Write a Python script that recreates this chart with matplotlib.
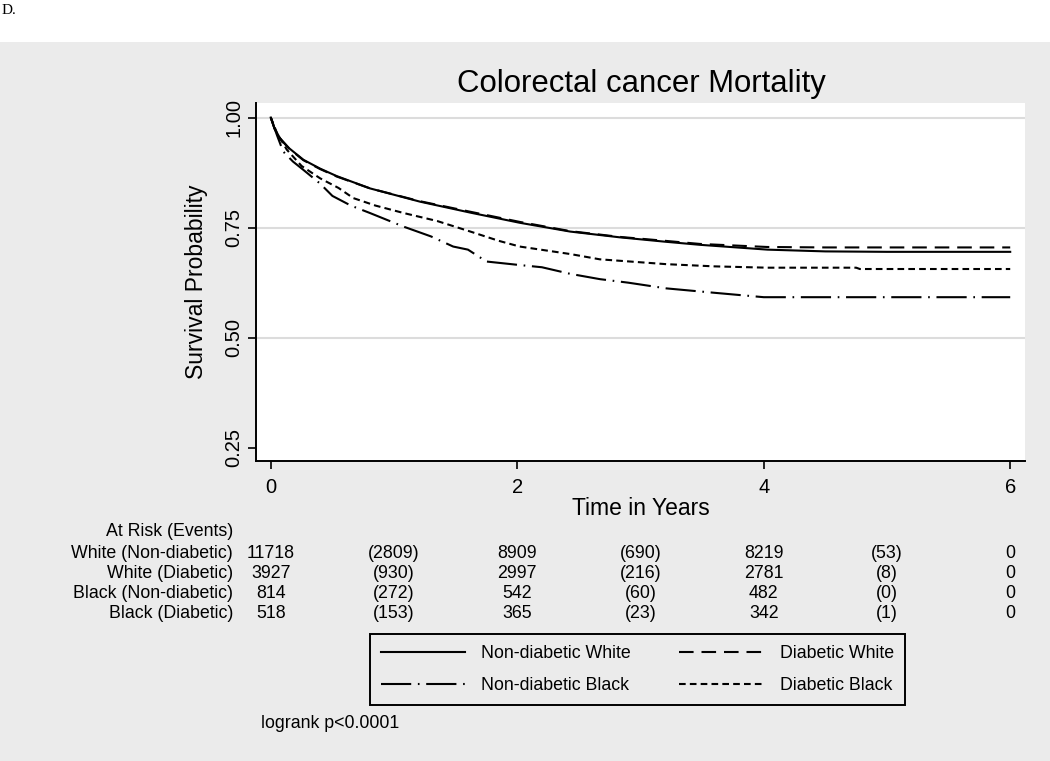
import matplotlib
matplotlib.use("Agg")
import matplotlib.pyplot as plt
from matplotlib.patches import Rectangle
from matplotlib.transforms import blended_transform_factory

# ---------------- data ----------------
t_nd_white = [0.0, 0.03, 0.075, 0.15, 0.265, 0.4, 0.535, 0.806, 1.21, 1.62, 2.02, 2.43, 2.83, 3.2, 3.48, 4.03, 4.5, 5.0, 6.0]
s_nd_white = [1.0, 0.975, 0.953, 0.93, 0.904, 0.884, 0.867, 0.839, 0.809, 0.784, 0.761, 0.741, 0.728, 0.718, 0.711, 0.700, 0.696, 0.695, 0.695]

t_d_white = [0.0, 0.03, 0.075, 0.15, 0.265, 0.4, 0.535, 0.806, 1.21, 1.62, 2.02, 2.43, 2.83, 3.2, 3.48, 4.03, 4.5, 5.0, 6.0]
s_d_white = [1.0, 0.975, 0.952, 0.929, 0.903, 0.883, 0.866, 0.839, 0.810, 0.786, 0.763, 0.742, 0.729, 0.720, 0.713, 0.706, 0.705, 0.705, 0.705]

t_nd_black = [0.0, 0.05, 0.10, 0.18, 0.265, 0.4, 0.5, 0.65, 0.806, 1.08, 1.3, 1.48, 1.6, 1.75, 2.02, 2.2, 2.43, 2.67, 2.9, 3.21, 3.6, 4.0, 6.0]
s_nd_black = [1.0, 0.96, 0.923, 0.900, 0.881, 0.850, 0.822, 0.800, 0.783, 0.752, 0.730, 0.707, 0.700, 0.673, 0.665, 0.660, 0.645, 0.633, 0.625, 0.612, 0.602, 0.592, 0.592]

t_d_black = [0.0, 0.05, 0.13, 0.25, 0.4, 0.55, 0.67, 0.85, 1.08, 1.35, 1.62, 1.85, 2.02, 2.43, 2.67, 3.21, 3.6, 4.03, 4.75, 4.78, 6.0]
s_d_black = [1.0, 0.965, 0.927, 0.890, 0.862, 0.840, 0.817, 0.800, 0.783, 0.765, 0.741, 0.720, 0.707, 0.690, 0.678, 0.667, 0.662, 0.659, 0.659, 0.656, 0.656]

series_labels = ["Non-diabetic White", "Diabetic White", "Non-diabetic Black", "Diabetic Black"]

row_labels = ["White (Non-diabetic)", "White (Diabetic)", "Black (Non-diabetic)", "Black (Diabetic)"]
at_risk_times = [0, 2, 4, 6]
event_times = [1, 3, 5]
at_risk = [[11718, 8909, 8219, 0],
           [3927, 2997, 2781, 0],
           [814, 542, 482, 0],
           [518, 365, 342, 0]]
events = [[2809, 690, 53],
          [930, 216, 8],
          [272, 60, 0],
          [153, 23, 1]]

x_ticks = [0, 2, 4, 6]
y_ticks = [0.25, 0.50, 0.75, 1.00]

# ---------------- figure ----------------
W, H = 1050, 761
BG = "#ebebeb"
plt.rcParams["font.family"] = ["Liberation Sans", "DejaVu Sans"]
fig = plt.figure(figsize=(W / 100, H / 100), dpi=100, facecolor=BG)
fig.patches.append(Rectangle((0, 1 - 42 / H), 1, 42 / H, transform=fig.transFigure,
                             facecolor="white", edgecolor="none", zorder=0))
fig.text(2 / W, 1 - 11 / H, "D.", family=["Liberation Serif", "DejaVu Serif"], fontsize=11,
         va="center", ha="left")

def fx(px):
    return px / W

def fy(py):
    return 1 - py / H

ax = fig.add_axes([fx(256), fy(461), fx(1025) - fx(256), fy(103) - fy(461)])
ax.set_facecolor("white")
ax.set_xlim(-0.12, 6.12)
ax.set_ylim(0.22, 1.033)
for sp in ["top", "right"]:
    ax.spines[sp].set_visible(False)
for sp in ["left", "bottom"]:
    ax.spines[sp].set_linewidth(1.4)
ax.set_xticks(x_ticks)
ax.set_yticks(y_ticks)
ax.set_yticklabels([f"{v:.2f}" for v in y_ticks], rotation=90, va="center")
ax.tick_params(axis="both", labelsize=14.5, length=6, width=1.2)
ax.tick_params(axis="x", pad=6)
ax.tick_params(axis="y", pad=3)
for v in [0.5, 0.75, 1.0]:
    ax.axhline(v, color="#dcdcdc", lw=1.5, zorder=0)

lw = 1.5
l1, = ax.plot(t_nd_white, s_nd_white, color="black", lw=lw, ls="-")
l2, = ax.plot(t_d_white, s_d_white, color="black", lw=lw, ls=(0, (7, 3.8)))
l3, = ax.plot(t_nd_black, s_nd_black, color="black", lw=lw, ls=(0, (14.5, 3.2, 0.8, 3.2)))
l4, = ax.plot(t_d_black, s_d_black, color="black", lw=lw, ls=(0, (3.2, 2.0)))

ax.set_xlabel("Time in Years", fontsize=16.5, labelpad=0)
ax.set_ylabel("Survival Probability", fontsize=16.5, labelpad=12)
fig.text(fx(641), fy(84), "Colorectal cancer Mortality", fontsize=22.4, ha="center", va="center")

# ---------------- at-risk table ----------------
tfs = 12.8
tr = blended_transform_factory(ax.transData, fig.transFigure)
fig.text(fx(233), fy(531), "At Risk (Events)", fontsize=tfs, ha="right", va="center")
row_y = [554, 574, 594, 614]
for r in range(4):
    y = fy(row_y[r])
    fig.text(fx(233), y, row_labels[r], fontsize=tfs, ha="right", va="center")
    for tt, n in zip(at_risk_times, at_risk[r]):
        fig.text(tt, y, str(n), fontsize=tfs, ha="center", va="center", transform=tr)
    for tt, e in zip(event_times, events[r]):
        fig.text(tt, y, f"({e})", fontsize=tfs, ha="center", va="center", transform=tr)

# ---------------- legend ----------------
leg = fig.legend([l1, l3, l2, l4],
                 [series_labels[0], series_labels[2], series_labels[1], series_labels[3]],
                 ncol=2, loc="upper left", bbox_to_anchor=(fx(370), fy(634)),
                 fontsize=tfs, frameon=True, fancybox=False, edgecolor="black",
                 facecolor=BG, framealpha=1, handlelength=4.75, handletextpad=0.9,
                 columnspacing=2.7, labelspacing=0.85, borderpad=0.62, borderaxespad=0)
leg.get_frame().set_linewidth(1.4)

fig.text(fx(261), fy(724), "logrank p<0.0001", fontsize=tfs, ha="left", va="center")

fig.savefig("out.png", dpi=100, facecolor=BG)
